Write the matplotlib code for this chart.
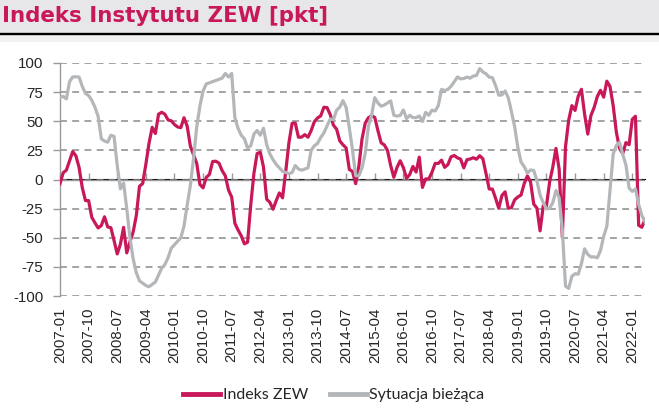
import matplotlib
matplotlib.use('Agg')
import matplotlib.pyplot as plt
import numpy as np
import pandas as pd
from matplotlib.lines import Line2D
from matplotlib.patches import Rectangle

# ---------------- data ----------------
months = pd.period_range('2007-01', '2022-05', freq='M').strftime('%Y-%m').tolist()

indeks_zew = [
    -3.6, 5.8, 8.0, 16.0, 24.0, 20.3, 10.4, -6.9, -18.1, -18.1, -32.5, -37.2,
    -41.6, -39.5, -32.0, -40.7, -41.4, -52.4, -63.9, -55.5, -41.1, -63.0, -53.5, -45.2,
    -31.0, -5.8, -3.5, 13.0, 31.1, 44.8, 39.5, 56.1, 57.7, 56.0, 51.1, 50.4,
    47.2, 45.1, 44.5, 53.0, 45.8, 28.7, 21.2, 14.0, -4.3, -7.2, 1.8, 4.3,
    15.4, 15.7, 14.1, 7.6, 3.1, -9.0, -15.1, -37.6, -43.3, -48.3, -55.2, -53.8,
    -21.6, 5.4, 22.3, 23.4, 10.8, -16.9, -19.6, -25.5, -18.2, -11.5, -15.7, 6.9,
    31.5, 48.2, 48.5, 36.3, 36.4, 38.5, 36.3, 42.0, 49.6, 52.8, 54.6, 62.0,
    61.7, 55.7, 46.6, 43.2, 33.1, 29.8, 27.1, 8.6, 6.9, -3.6, 11.5, 34.9,
    48.4, 53.0, 54.8, 53.3, 41.9, 31.5, 29.7, 25.0, 12.1, 1.9, 10.4, 16.1,
    10.2, 1.0, 4.3, 11.2, 6.4, 19.2, -6.8, 0.5, 0.5, 6.2, 13.8, 13.8,
    16.6, 10.4, 12.8, 19.5, 20.6, 18.6, 17.5, 10.0, 17.0, 17.6, 18.7, 17.4,
    20.4, 17.8, 5.1, -8.2, -8.2, -16.1, -24.7, -13.7, -10.6, -24.7, -24.1, -17.5,
    -15.0, -13.4, -3.6, 3.1, -2.1, -21.1, -24.5, -44.1, -22.5, -22.8, -2.1, 10.7,
    26.7, 8.7, -49.5, 28.2, 51.0, 63.4, 59.3, 71.5, 77.4, 56.1, 39.0, 55.0,
    61.8, 71.2, 76.6, 70.7, 84.4, 79.8, 63.3, 40.4, 26.5, 22.3, 31.7, 29.9,
    51.7, 54.3, -39.3, -41.0, -34.3,
]

sytuacja_biezaca = [
    70.4, 71.4, 69.2, 84.0, 88.0, 88.2, 87.9, 80.0, 74.0, 72.0, 68.0, 62.0,
    54.0, 35.0, 33.0, 32.0, 38.0, 37.0, 12.0, -8.0, -3.0, -25.0, -50.0, -68.0,
    -80.0, -87.0, -89.0, -91.0, -92.0, -90.0, -88.0, -82.0, -76.0, -73.0, -67.0, -59.0,
    -56.0, -53.0, -50.0, -40.0, -22.0, -5.0, 18.0, 45.0, 63.0, 76.0, 82.0, 83.0,
    84.0, 85.0, 86.0, 87.0, 91.0, 88.0, 91.0, 53.0, 44.0, 38.0, 35.0, 27.0,
    29.0, 39.0, 42.0, 38.0, 44.0, 30.0, 22.0, 17.0, 13.0, 10.0, 7.0, 6.0,
    5.0, 6.0, 12.0, 9.0, 8.0, 9.0, 10.0, 25.0, 29.0, 31.0, 36.0, 40.0,
    46.0, 52.0, 51.3, 59.5, 62.1, 67.7, 61.8, 44.3, 25.4, 3.2, 3.3, 10.0,
    22.4, 45.5, 55.1, 70.2, 65.7, 62.9, 63.9, 65.7, 67.5, 55.2, 54.4, 55.0,
    59.7, 52.3, 55.1, 53.1, 53.1, 54.5, 49.8, 57.6, 55.1, 59.5, 58.8, 63.5,
    77.3, 76.4, 77.3, 80.1, 83.9, 88.0, 86.4, 86.7, 87.9, 87.0, 88.8, 89.3,
    95.2, 92.3, 90.7, 87.9, 87.4, 80.6, 72.4, 72.6, 76.0, 70.1, 58.2, 45.3,
    27.6, 15.0, 11.1, 5.5, 8.2, 7.8, -1.1, -13.5, -19.9, -25.3, -24.7, -19.9,
    -9.5, -15.7, -43.1, -91.5, -93.5, -83.1, -80.9, -81.3, -72.3, -59.5, -64.3, -66.5,
    -66.4, -67.2, -61.0, -48.8, -40.1, -9.1, 21.9, 29.3, 31.9, 21.6, 12.5, -7.4,
    -10.2, -8.1, -21.4, -30.8, -36.5,
]

tick_labels = months[::9]
y_ticks = [-100, -75, -50, -25, 0, 25, 50, 75, 100]

title = 'Indeks Instytutu ZEW [pkt]'
series_names = ['Indeks ZEW', 'Sytuacja bieżąca']

RED = '#C8185A'
GRAY = '#B3B7BA'

# ---------------- figure ----------------
W, H = 659, 420
fig = plt.figure(figsize=(W / 100, H / 100), dpi=100)
fig.patch.set_facecolor('white')

# title band
fig.patches.append(Rectangle((0, 1 - 32.5 / H), 1, 32.5 / H, transform=fig.transFigure,
                             facecolor='#e7e7e9', edgecolor='none', zorder=0))
fig.patches.append(Rectangle((0, 1 - 42 / H), 1, 7 / H, transform=fig.transFigure,
                             facecolor='#f1f1f1', edgecolor='none', zorder=0))
fig.add_artist(Line2D([0, 1], [1 - 33.5 / H] * 2, transform=fig.transFigure,
                      color='black', lw=1.7))
fig.text(2 / W, 1 - 22.5 / H, title, color=RED, fontsize=15.4, fontweight='bold',
         family='DejaVu Sans', ha='left', va='baseline')

ax = fig.add_axes([60 / W, 1 - 296 / H, (645 - 60) / W, (296 - 63) / H])
x = np.arange(len(months))

ax.plot(x, indeks_zew, color=RED, lw=2.3, solid_joinstyle='round', zorder=3,
        label=series_names[0])
ax.plot(x, sytuacja_biezaca, color=GRAY, lw=2.3, solid_joinstyle='round', zorder=3,
        label=series_names[1])

ax.set_xlim(0, len(months) - 1)
ax.set_ylim(-100, 100)
ax.set_yticks(y_ticks)
ax.set_yticklabels([str(v) for v in y_ticks])
ax.set_xticks(x[::9])
ax.set_xticklabels(tick_labels, rotation=90, va='top', ha='center')

label_font = ['Liberation Sans', 'DejaVu Sans']
for t in ax.get_xticklabels() + ax.get_yticklabels():
    t.set_family(label_font)
    t.set_fontsize(10.8)
    t.set_color('#262626')

for s in ['top', 'right', 'bottom']:
    ax.spines[s].set_visible(False)
ax.spines['left'].set_color('#9a9a9a')
ax.spines['left'].set_linewidth(1.0)
ax.tick_params(axis='y', length=5, width=1.0, color='#9a9a9a', pad=7)
ax.tick_params(axis='x', length=0, pad=8.5)

ax.yaxis.grid(True, linestyle=(0, (4.5, 3.5)), color='#8a8a8a', lw=1.1, zorder=1)
ax.set_axisbelow(True)

# zero axis with small downward ticks
ax.axhline(0, color='#9a9a9a', lw=1.0, zorder=2)
sec = ax.secondary_xaxis(0.5)
sec.set_xticks(x[::9])
sec.set_xticklabels([])
sec.spines['bottom'].set_visible(False)
sec.tick_params(axis='x', length=4, width=1.0, color='#9a9a9a', direction='out')

# legend
handles = [Line2D([], [], color=RED, lw=3.5), Line2D([], [], color=GRAY, lw=3.5)]
leg = fig.legend(handles, series_names, loc='center', ncol=2, frameon=False,
                 bbox_to_anchor=(334 / W, 1 - 395 / H), handlelength=2.3,
                 handletextpad=0.15, columnspacing=1.4,
                 prop={'family': ['Lato', 'DejaVu Sans'], 'size': 11.5})
for t in leg.get_texts():
    t.set_color('#262626')

fig.savefig('out.png', dpi=100, facecolor=fig.get_facecolor())
